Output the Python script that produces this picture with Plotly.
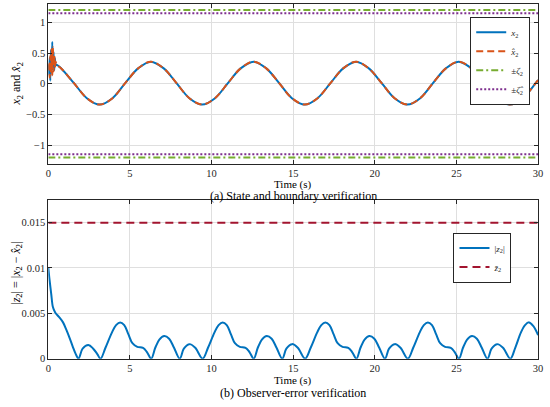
import plotly.graph_objs as go

# ---------------------------------------------------------------------------
# (a) state x2 and its estimate

# start-up transient (first half second)
head_t = [0, 0.04, 0.08, 0.12, 0.16, 0.20, 0.24, 0.28, 0.32, 0.36, 0.40, 0.45, 0.50]
x2_head = [0.30, 0.15, 0.42, 0.05, 0.55, 0.18, 0.68, 0.24, 0.52, 0.22, 0.42, 0.30, 0.31]
xhat_head = [0.33, 0.26, 0.10, 0.45, 0.16, 0.56, 0.14, 0.60, 0.20, 0.48, 0.27, 0.36, 0.31]

# steady oscillation, both curves on top of each other
wave_t = [0.79, 1.57, 2.36, 3.14, 3.93, 4.71, 5.50, 6.28,
          7.07, 7.85, 8.64, 9.42, 10.21, 11.00, 11.78, 12.57,
          13.35, 14.14, 14.92, 15.71, 16.49, 17.28, 18.06, 18.85,
          19.63, 20.42, 21.21, 21.99, 22.78, 23.56, 24.35, 25.13,
          25.92, 26.70, 27.49, 28.27, 29.06, 29.85, 30.0]
wave_vals = [0.25, 0.01, -0.235, -0.34, -0.235, 0.01, 0.25, 0.36,
             0.25, 0.01, -0.235, -0.34, -0.235, 0.01, 0.25, 0.36,
             0.25, 0.01, -0.235, -0.34, -0.235, 0.01, 0.25, 0.36,
             0.25, 0.01, -0.235, -0.34, -0.235, 0.01, 0.25, 0.36,
             0.25, 0.01, -0.235, -0.34, -0.235, 0.01, 0.06]

zeta_bound = 1.2
zeta_hat_bound = 1.15
t_end = 30

# ---------------------------------------------------------------------------
# (b) observer error |z2|

err_t = [0, 0.08, 0.18, 0.28, 0.42, 0.65, 0.9, 1.1, 1.3, 1.5, 1.68, 1.85,
         2.1, 2.45, 2.75, 3.0, 3.2,
         3.5, 3.9, 4.15, 4.4, 4.65, 4.9, 5.15, 5.45, 5.8, 6.05, 6.3,
         6.55, 6.8, 7.1, 7.4, 7.7, 8.05, 8.3, 8.65, 9.0, 9.45,
         9.78, 10.18, 10.43, 10.68, 10.93, 11.18, 11.43, 11.73, 12.08, 12.33, 12.58,
         12.83, 13.08, 13.38, 13.68, 13.98, 14.33, 14.58, 14.93, 15.28, 15.73,
         16.07, 16.47, 16.72, 16.97, 17.22, 17.47, 17.72, 18.02, 18.37, 18.62, 18.87,
         19.12, 19.37, 19.67, 19.97, 20.27, 20.62, 20.87, 21.22, 21.57, 22.02,
         22.35, 22.75, 23.0, 23.25, 23.5, 23.75, 24.0, 24.3, 24.65, 24.9, 25.15,
         25.4, 25.65, 25.95, 26.25, 26.55, 26.9, 27.15, 27.5, 27.85, 28.3,
         28.6, 28.95, 29.2, 29.45, 29.7, 30.0]
err_vals = [0.0100, 0.0086, 0.0071, 0.0057, 0.0051, 0.0046, 0.0040, 0.0032, 0.0023, 0.0013, 0.0005, 0.0,
            0.0011, 0.0015, 0.0011, 0.0005, 0.0,
            0.0012, 0.0029, 0.0037, 0.0040, 0.0037, 0.0027, 0.0017, 0.0013, 0.0012, 0.0007, 0.0,
            0.0012, 0.0021, 0.0025, 0.0022, 0.0012, 0.0, 0.0011, 0.0016, 0.0012, 0.0,
            0.0012, 0.0029, 0.0037, 0.0040, 0.0037, 0.0027, 0.0017, 0.0013, 0.0012, 0.0007, 0.0,
            0.0012, 0.0021, 0.0025, 0.0022, 0.0012, 0.0, 0.0011, 0.0016, 0.0012, 0.0,
            0.0012, 0.0029, 0.0037, 0.0040, 0.0037, 0.0027, 0.0017, 0.0013, 0.0012, 0.0007, 0.0,
            0.0012, 0.0021, 0.0025, 0.0022, 0.0012, 0.0, 0.0011, 0.0016, 0.0012, 0.0,
            0.0012, 0.0029, 0.0037, 0.0040, 0.0037, 0.0027, 0.0017, 0.0013, 0.0012, 0.0007, 0.0,
            0.0012, 0.0021, 0.0025, 0.0022, 0.0012, 0.0, 0.0011, 0.0016, 0.0012, 0.0,
            0.0012, 0.0029, 0.0037, 0.0040, 0.0036, 0.0026]
z_bar = 0.015

# ticks
x_ticks = [0, 5, 10, 15, 20, 25, 30]
y1_ticks = [-1, -0.5, 0, 0.5, 1]
y1_labels = ['\u22121', '\u22120.5', '0', '0.5', '1']
y2_ticks = [0, 0.005, 0.01, 0.015]
y2_labels = ['0', '0.005', '0.01', '0.015']

FONT = 'Liberation Serif'
INK = '#262626'
W = 550
H = 407


def px_x(px):
    return px / W


def px_y(py):
    return 1 - py / H


x2_t = head_t + wave_t
x2_vals = x2_head + wave_vals
xhat_vals = xhat_head + wave_vals

fig = go.Figure()

# ----- top panel
fig.add_trace(go.Scatter(x=x2_t, y=x2_vals, mode='lines', line=dict(color='#0072BD', width=2, shape='spline'),
                         name='<i>x</i><sub>2</sub>', xaxis='x', yaxis='y', legend='legend'))
fig.add_trace(go.Scatter(x=x2_t, y=xhat_vals, mode='lines',
                         line=dict(color='#D95319', width=2, dash='7px,4px', shape='spline'),
                         name='<i>x\u0302</i><sub>2</sub>', xaxis='x', yaxis='y', legend='legend'))
fig.add_trace(go.Scatter(x=[0, t_end, None, 0, t_end],
                         y=[zeta_bound, zeta_bound, None, -zeta_bound, -zeta_bound], mode='lines',
                         line=dict(color='#77AC30', width=2, dash='7px,3px,2px,3px'),
                         name='\u00b1<i>\u03b6</i><sub>2</sub>', xaxis='x', yaxis='y', legend='legend'))
fig.add_trace(go.Scatter(x=[0, t_end, None, 0, t_end],
                         y=[zeta_hat_bound, zeta_hat_bound, None, -zeta_hat_bound, -zeta_hat_bound], mode='lines',
                         line=dict(color='#7E2F8E', width=2, dash='2px,2px'),
                         name='\u00b1<i>\u03b6\u0302</i><sub>2</sub>', xaxis='x', yaxis='y', legend='legend'))

# ----- bottom panel
fig.add_trace(go.Scatter(x=err_t, y=err_vals, mode='lines', line=dict(color='#0072BD', width=2, shape='spline'),
                         name='|<i>z</i><sub>2</sub>|', xaxis='x2', yaxis='y2', legend='legend2'))
fig.add_trace(go.Scatter(x=[0, t_end], y=[z_bar, z_bar], mode='lines',
                         line=dict(color='#A2142F', width=2, dash='8px,5px'),
                         name='<i>z\u0304</i><sub>2</sub>', xaxis='x2', yaxis='y2', legend='legend2'))

axis_style = dict(showline=True, linecolor=INK, linewidth=1, mirror='ticks', ticks='inside', ticklen=4,
                  tickcolor=INK, showgrid=True, gridcolor='#DFDFDF', gridwidth=1, zeroline=False,
                  tickfont=dict(family=FONT, size=10.5, color=INK))

x_dom = [px_x(46), px_x(543)]
legend_font = dict(family=FONT, size=9, color=INK)

fig.update_layout(
    width=W, height=H,
    margin=dict(l=0, r=0, t=0, b=0),
    paper_bgcolor='white', plot_bgcolor='white',
    xaxis=dict(domain=x_dom, range=[0, 30], anchor='y', tickvals=x_ticks, **axis_style),
    yaxis=dict(domain=[px_y(166), px_y(4)], range=[-1.3, 1.3], anchor='x',
               tickvals=y1_ticks, ticktext=y1_labels, **axis_style),
    xaxis2=dict(domain=x_dom, range=[0, 30], anchor='y2', tickvals=x_ticks, **axis_style),
    yaxis2=dict(domain=[px_y(364), px_y(203)], range=[0, 0.0175], anchor='x2',
                tickvals=y2_ticks, ticktext=y2_labels, **axis_style),
    legend=dict(x=px_x(535), y=px_y(17), xanchor='right', yanchor='top', bgcolor='white',
                bordercolor=INK, borderwidth=1, font=legend_font,
                tracegroupgap=0, itemwidth=30),
    legend2=dict(x=px_x(516), y=px_y(236), xanchor='right', yanchor='top', bgcolor='white',
                 bordercolor=INK, borderwidth=1, font=legend_font,
                 tracegroupgap=0, itemwidth=30),
)

mid_px = (46 + 543) / 2
notes = [
    ('Time (s)', mid_px, 187.5, 0, 11),
    ('(a) State and boundary verification', mid_px, 199, 0, 12),
    ('Time (s)', mid_px, 386, 0, 11),
    ('(b) Observer-error verification', mid_px, 398.5, 0, 12),
    ('<i>x</i><sub>2</sub> and <i>x\u0302</i><sub>2</sub>', 14, 85, -90, 12),
    ('|<i>z</i><sub>2</sub>| = |<i>x</i><sub>2</sub> \u2212 <i>x\u0302</i><sub>2</sub>|', 14, 277, -90, 12),
]
for text, x_pos, y_pos, angle, size in notes:
    fig.add_annotation(text=text, x=px_x(x_pos), y=px_y(y_pos), xref='paper', yref='paper',
                       showarrow=False, textangle=angle, font=dict(family=FONT, size=size, color='black'),
                       xanchor='center', yanchor='middle')

# drop the browser's default page margin so the figure sits in the window corner
fig.write_html("out.html", config={'displayModeBar': False},
               post_script="document.body.style.margin = '0';")
